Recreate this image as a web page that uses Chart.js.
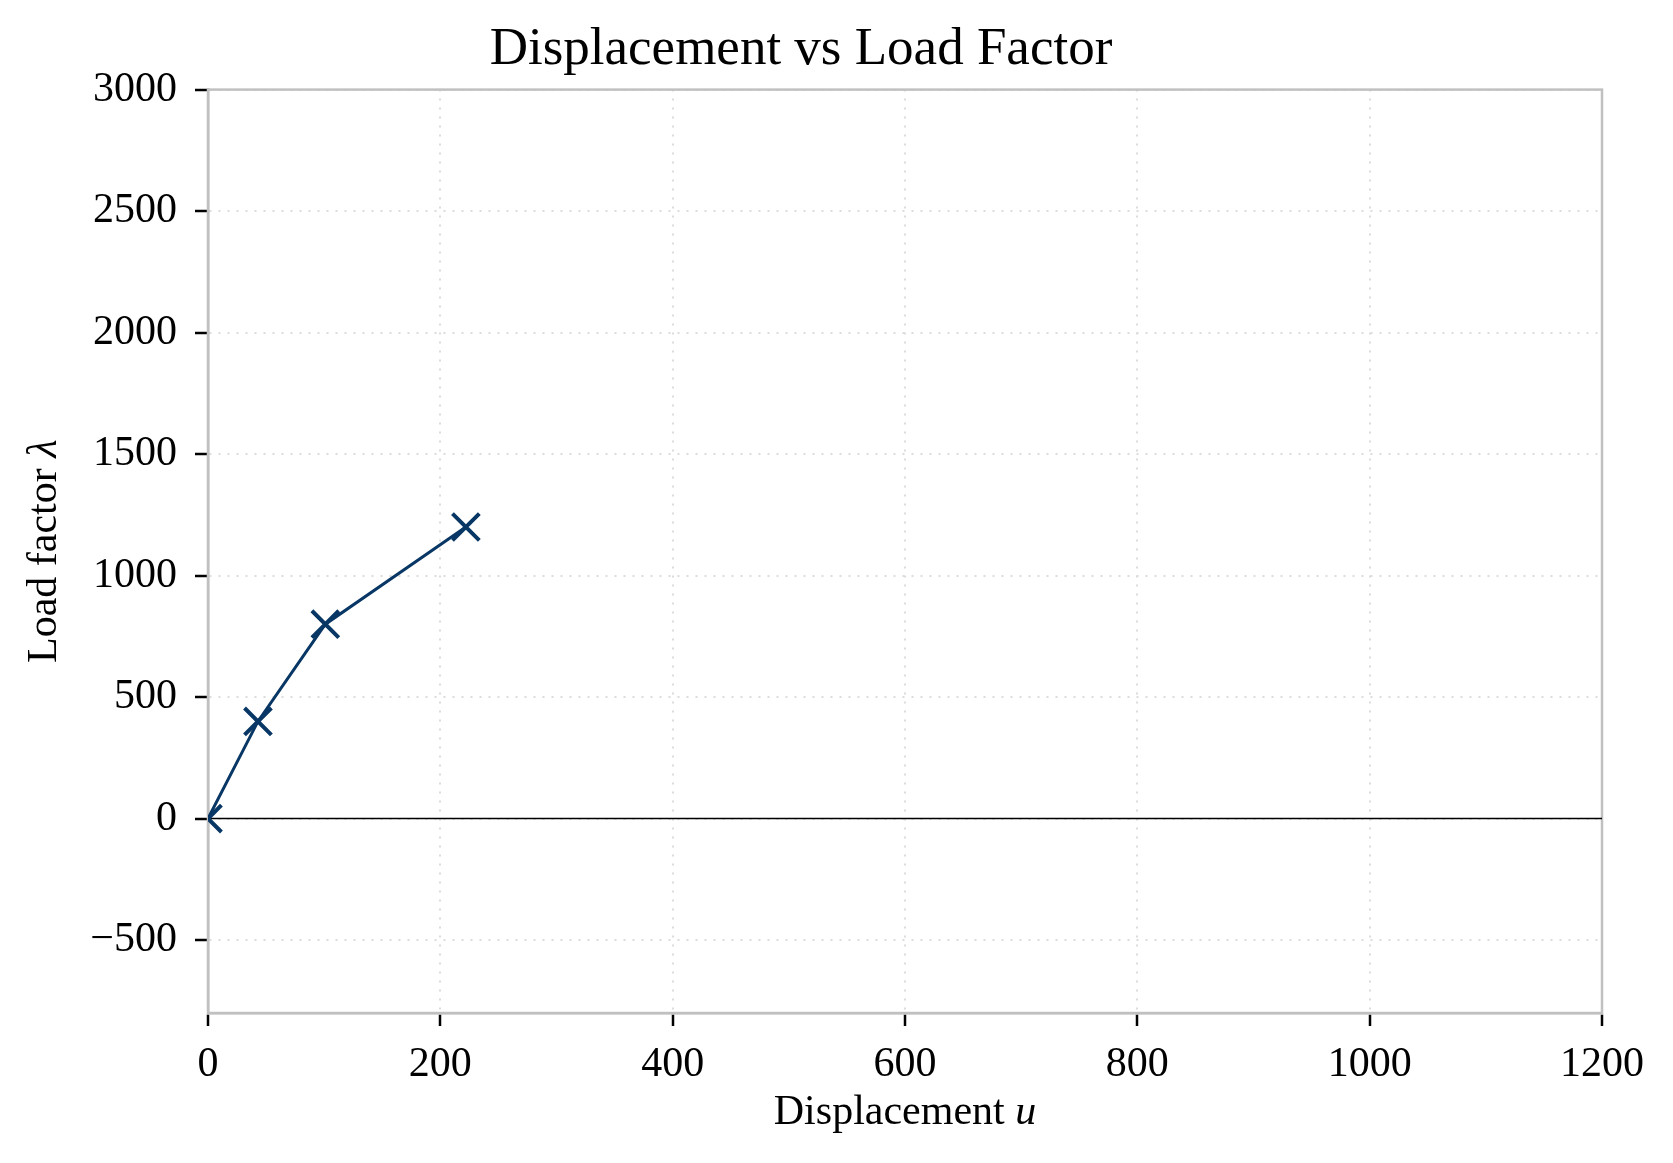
<!DOCTYPE html>
<html>
<head>
<meta charset="utf-8">
<script src="https://cdn.jsdelivr.net/npm/chart.js@4.4.1/dist/chart.umd.min.js"></script>
<style>
  html, body { margin: 0; padding: 0; background: #fff; }
  #wrap { width: 1673px; height: 1163px; }
</style>
</head>
<body>
<div id="wrap"><canvas id="myChart" width="1673" height="1163"></canvas></div>
<script>
// données
const displacement = [0, 43, 101, 222];
const loadFactor = [0, 400, 800, 1200];
const zeroLineX = [0, 1200];
const zeroLineY = [0, 0];
const yTicks = [-500, 0, 500, 1000, 1500, 2000, 2500, 3000];

const serif = '"Liberation Serif", "DejaVu Serif", serif';
const navy = '#083765';

// cadre complet autour de la zone de tracé (haut et droite)
const framePlugin = {
  id: 'frame',
  beforeDatasetsDraw(chart) {
    const { ctx, chartArea: a } = chart;
    ctx.save();
    ctx.strokeStyle = '#c0c0c0';
    ctx.lineWidth = 2.5;
    ctx.strokeRect(a.left, a.top, a.right - a.left, a.bottom - a.top);
    ctx.restore();
  }
};

// titres des axes avec la variable en italique
function drawMixed(ctx, parts, size) {
  let total = 0;
  parts.forEach(p => {
    ctx.font = (p.italic ? 'italic ' : '') + size + 'px ' + serif;
    p.w = ctx.measureText(p.text).width;
    total += p.w;
  });
  let x = -total / 2;
  parts.forEach(p => {
    ctx.font = (p.italic ? 'italic ' : '') + size + 'px ' + serif;
    ctx.fillText(p.text, x, 0);
    x += p.w;
  });
}

const axisTitlePlugin = {
  id: 'axisTitles',
  afterDraw(chart) {
    const { ctx, chartArea: a } = chart;
    ctx.save();
    ctx.fillStyle = '#000';
    ctx.textBaseline = 'middle';
    ctx.textAlign = 'left';
    ctx.translate((a.left + a.right) / 2, 1113);
    drawMixed(ctx, [{ text: 'Displacement ' }, { text: 'u', italic: true }], 42);
    ctx.restore();

    ctx.save();
    ctx.fillStyle = '#000';
    ctx.textBaseline = 'middle';
    ctx.textAlign = 'left';
    ctx.translate(45, (a.top + a.bottom) / 2);
    ctx.rotate(-Math.PI / 2);
    drawMixed(ctx, [{ text: 'Load factor ' }, { text: '\u03bb', italic: true }], 42);
    ctx.restore();
  }
};

const gridOpts = {
  color: '#dcdcdc',
  lineWidth: 2,
  tickColor: '#000',
  tickLength: 13,
  tickWidth: 2.5,
  tickBorderDash: []
};

const ctx = document.getElementById('myChart');
new Chart(ctx, {
  type: 'scatter',
  data: {
    datasets: [
      {
        label: 'zero',
        data: zeroLineX.map((x, i) => ({ x, y: zeroLineY[i] })),
        showLine: true,
        borderColor: '#000',
        borderWidth: 1.5,
        pointRadius: 0,
        order: 2
      },
      {
        label: 'Load factor',
        data: displacement.map((x, i) => ({ x, y: loadFactor[i] })),
        showLine: true,
        borderColor: navy,
        backgroundColor: navy,
        borderWidth: 3,
        pointStyle: 'crossRot',
        pointRadius: 19,
        pointBorderWidth: 4,
        pointBorderColor: navy,
        order: 1
      }
    ]
  },
  options: {
    responsive: false,
    animation: false,
    devicePixelRatio: 1,
    layout: { padding: { left: 0, right: 71, top: 0, bottom: 0 } },
    plugins: {
      legend: { display: false },
      tooltip: { enabled: false },
      title: {
        display: true,
        text: 'Displacement vs Load Factor',
        color: '#000',
        font: { family: serif, size: 53, weight: 'normal' },
        padding: { top: 18, bottom: 8 }
      }
    },
    scales: {
      x: {
        type: 'linear',
        min: 0,
        max: 1200,
        afterFit(scale) { scale.height = 150; },
        ticks: {
          stepSize: 200,
          color: '#000',
          font: { family: serif, size: 42 },
          padding: 14,
          maxRotation: 0,
          callback: v => String(v)
        },
        grid: gridOpts,
        border: { color: '#c0c0c0', width: 2.5, dash: [2, 7] }
      },
      y: {
        type: 'linear',
        min: -800,
        max: 3000,
        afterFit(scale) { scale.width = 208; },
        afterBuildTicks(scale) {
          scale.ticks = yTicks.map(v => ({ value: v }));
        },
        ticks: {
          color: '#000',
          font: { family: serif, size: 42 },
          padding: 18,
          callback: v => (v < 0 ? '\u2212' + Math.abs(v) : String(v))
        },
        grid: gridOpts,
        border: { color: '#c0c0c0', width: 2.5, dash: [2, 7] }
      }
    }
  },
  plugins: [framePlugin, axisTitlePlugin]
});
</script>
</body>
</html>
